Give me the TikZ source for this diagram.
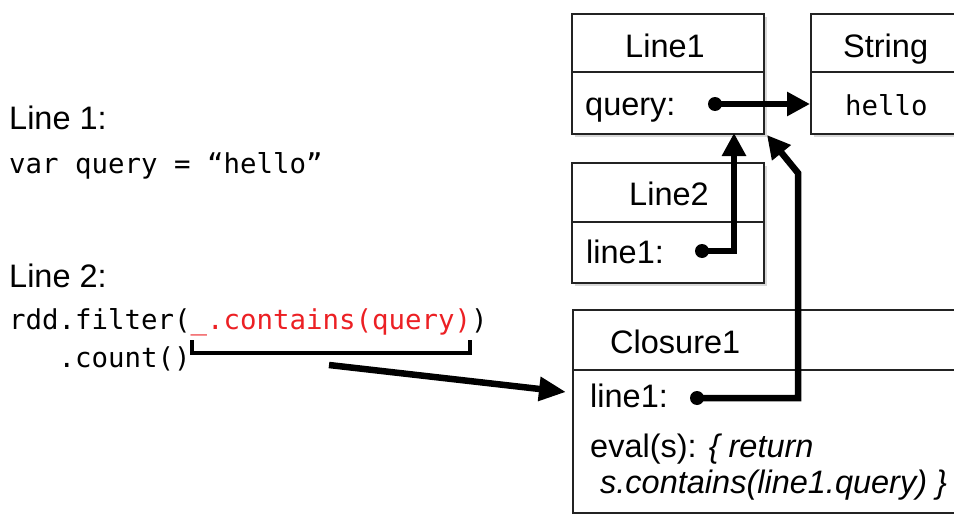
\documentclass[tikz,border=0pt]{standalone}
\usepackage{fontspec}
\setmainfont{Liberation Sans}
\setmonofont{DejaVu Sans Mono}
\usetikzlibrary{arrows.meta,shadows}
\definecolor{codered}{RGB}{236,32,36}
\definecolor{boxline}{RGB}{35,35,35}
\begin{document}
\begin{tikzpicture}[x=1pt,y=-1pt,
  objbox/.style={draw=boxline,line width=2pt,fill=white,inner sep=0,anchor=north west,
    drop shadow={shadow xshift=3pt,shadow yshift=-3pt,opacity=.3}},
  divider/.style={draw=boxline,line width=1.8pt},
  lbl/.style={inner sep=0,font=\fontsize{32.5}{39}\selectfont},
  mono/.style={inner sep=0,font=\ttfamily\fontsize{27.4}{33}\selectfont},
  ptr/.style={line width=6.5pt,-{Triangle[length=23pt,width=23pt]}},
  bigptr/.style={line width=6.5pt,-{Triangle[length=27pt,width=23pt]}},
  dot/.style={circle,fill=black,inner sep=0,minimum size=14pt}
]
\clip (0,0) rectangle (954,514);
\fill[white] (0,0) rectangle (954,514);

% left text
\node[lbl,anchor=base west] (t1) at (9,129) {Line 1:};
\node[mono,anchor=base west] (c1) at (9,173) {var query = “hello”};
\node[lbl,anchor=base west] (t2) at (9,287) {Line 2:};
\node[mono,anchor=base west] (c2) at (9,329) {rdd.filter(\textcolor{codered}{\_.contains(query)})};
\node[mono,anchor=base west] (c3) at (9,367) {\phantom{rdd}.count()};

% brace
\draw[line width=3.5pt] (192,340) |- (470,353) -- (470,340);

% boxes
\node[objbox,minimum width=192pt,minimum height=120pt] (L1) at (571,13) {};
\draw[divider] (571,72) -- (763,72);
\node[objbox,minimum width=152pt,minimum height=120pt] (S) at (810,13) {};
\draw[divider] (810,72) -- (962,72);
\node[objbox,minimum width=192pt,minimum height=120pt] (L2) at (571,162) {};
\draw[divider] (571,222) -- (763,222);
\node[objbox,minimum width=430pt,minimum height=203pt] (C1) at (572,309) {};
\draw[divider] (572,370) -- (1002,370);

% box texts
\node[lbl,anchor=base] (L1t) at (665,57) {Line1};
\node[lbl,anchor=base west] (L1q) at (585,115) {query:};
\node[lbl,anchor=base west] (St) at (843,57) {String};
\node[mono,anchor=base west] (Sh) at (845,115) {hello};
\node[lbl,anchor=base] (L2t) at (669,205) {Line2};
\node[lbl,anchor=base west] (L2l) at (586,263) {line1:};
\node[lbl,anchor=base west] (C1t) at (610,353) {Closure1};
\node[lbl,anchor=base west] (C1l) at (590,407) {line1:};
\node[lbl,anchor=base west] (C1e) at (590,457) {eval(s): \textit{\{ return}};
\node[lbl,anchor=base west] (C1s) at (600,493) {\textit{s.contains(line1.query) \}}};

% pointers
\node[dot] (qd) at (715,104) {};
\node[dot] (l2d) at (702,251) {};
\node[dot] (cd) at (697,398) {};
\coordinate (l1in) at (734,133);
\coordinate (bend) at (798,173);
\coordinate (corner) at (767,135);
\coordinate (bstart) at (329,365);
\coordinate (c1in) at (566,392);

\draw[ptr] (qd.center) -- (qd -| S.west);
\draw[ptr] (l2d.center) -| (l1in);
\draw[ptr] (cd.center) -| (bend) -- (corner);
\draw[bigptr] (bstart) -- (c1in);
\end{tikzpicture}
\end{document}
